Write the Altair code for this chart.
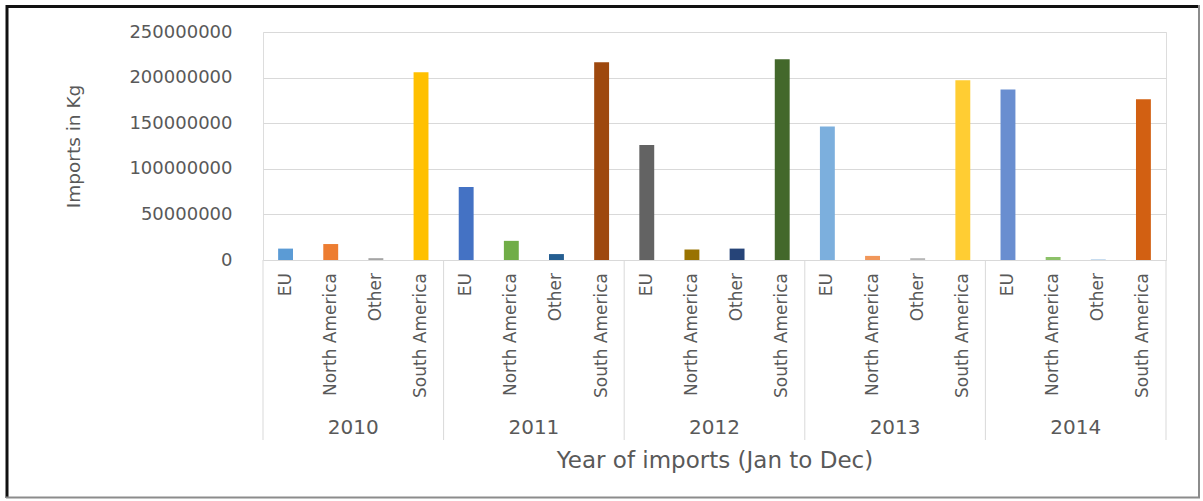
import altair as alt
import pandas as pd

years = ["2010", "2011", "2012", "2013", "2014"]
regions = ["EU", "North America", "Other", "South America"]
eu = [12500000, 80000000, 126000000, 146500000, 187000000]
north_america = [17500000, 21000000, 11500000, 4500000, 3300000]
other = [2000000, 6500000, 12500000, 2000000, 300000]
south_america = [206000000, 216800000, 220000000, 197000000, 176300000]
y_ticks = [0, 50000000, 100000000, 150000000, 200000000, 250000000]

bar_colors = ["#5B9BD5", "#ED7D31", "#A5A5A5", "#FFC000",
              "#4472C4", "#70AD47", "#255E91", "#9E480E",
              "#636363", "#997300", "#264478", "#43682B",
              "#7CAFDD", "#F1975A", "#B7B7B7", "#FFCD33",
              "#698ED0", "#8CC168", "#327DC2", "#D26012"]

series = [eu, north_america, other, south_america]
rows = []
for i, yr in enumerate(years):
    for r, vals in zip(regions, series):
        rows.append({"year": yr, "region": r, "imports": vals[i], "key": f"{yr} {r}"})
df = pd.DataFrame(rows)
keys = list(df["key"])

W, H = 903, 228
FONT = "DejaVu Sans"
GRAY = "#595959"
GRID = "#d9d9d9"

x_year = alt.X(
    "year:N", sort=years,
    scale=alt.Scale(paddingInner=0, paddingOuter=0),
    axis=alt.Axis(
        title="Year of imports (Jan to Dec)", labelAngle=0, ticks=False, domain=False,
        grid=False, labelPadding=167, labelBaseline="middle", labelFontSize=20,
        labelColor=GRAY, labelFont=FONT, titleFont=FONT, titleFontSize=23,
        titleFontWeight="normal", titleColor=GRAY, titleX=451.5, titleY=200,
        titleBaseline="middle", titleAlign="center",
    ),
)
x_off = alt.XOffset("region:N", sort=regions,
                    scale=alt.Scale(paddingInner=0.67, paddingOuter=0.335))

bars = alt.Chart(df).mark_bar().encode(
    x=x_year,
    xOffset=x_off,
    y=alt.Y(
        "imports:Q",
        scale=alt.Scale(domain=[0, 250000000], nice=False),
        axis=alt.Axis(
            title="Imports in Kg", values=y_ticks, format="d", ticks=False, domain=False,
            grid=True, gridColor=GRID, gridWidth=1, labelPadding=31, labelFontSize=18,
            labelColor=GRAY, labelFont=FONT, titleFont=FONT, titleFontSize=18.5,
            titleFontWeight="normal", titleColor=GRAY, titleX=-190, titleY=114,
            titleAngle=270, titleAlign="center", titleBaseline="middle",
        ),
    ),
    color=alt.Color("key:N", scale=alt.Scale(domain=keys, range=bar_colors), legend=None),
)

labels = alt.Chart(df).mark_text(
    angle=270, align="right", baseline="middle", fontSize=17, font=FONT, color=GRAY
).encode(
    x=alt.X("year:N", sort=years),
    xOffset=alt.XOffset("region:N", sort=regions),
    y=alt.value(H + 13),
    text="region:N",
)

year_df = pd.DataFrame({"year": years})
seps = alt.Chart(year_df).mark_rule(color=GRID, strokeWidth=1).encode(
    x=alt.X("year:N", sort=years, bandPosition=0),
    y=alt.value(H),
    y2=alt.value(H + 180),
)
last_sep = alt.Chart(pd.DataFrame({"year": [years[-1]]})).mark_rule(color=GRID, strokeWidth=1).encode(
    x=alt.X("year:N", sort=years, bandPosition=1),
    y=alt.value(H),
    y2=alt.value(H + 180),
)

one = alt.Data(values=[{"k": 1}])
frame_left = alt.Chart(one).mark_rule(color="#111111", strokeWidth=3).encode(
    x=alt.value(-256), y=alt.value(-27), y2=alt.value(466))
frame_top = alt.Chart(one).mark_rule(color="#111111", strokeWidth=3).encode(
    y=alt.value(-25.5), x=alt.value(-257), x2=alt.value(937))
frame_right = alt.Chart(one).mark_rule(color="#8c8c8c", strokeWidth=2).encode(
    x=alt.value(936), y=alt.value(-27), y2=alt.value(466))
frame_bottom = alt.Chart(one).mark_rule(color="#8c8c8c", strokeWidth=2).encode(
    y=alt.value(465.5), x=alt.value(-257), x2=alt.value(937))

chart = alt.layer(
    bars, labels, seps, last_sep, frame_left, frame_top, frame_right, frame_bottom
).properties(
    width=W, height=H,
    autosize=alt.AutoSizeParams(type="none"),
    padding={"left": 263, "top": 32, "right": 37, "bottom": 241},
).configure_view(strokeWidth=0, strokeOpacity=0).configure_axisX(grid=False).configure(background="white")

chart.save("out.html", embed_options={"renderer": "svg", "actions": False})
